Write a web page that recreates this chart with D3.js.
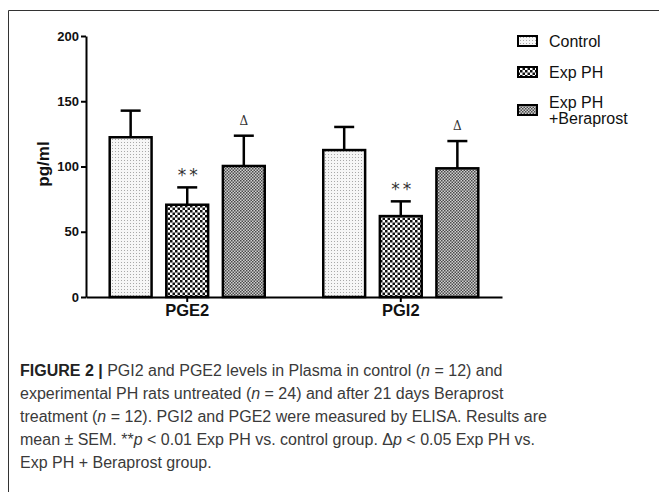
<!DOCTYPE html>
<html>
<head>
<meta charset="utf-8">
<script src="https://cdn.jsdelivr.net/npm/d3@7"></script>
<style>
  html, body { margin: 0; padding: 0; background: #fff; }
  svg { display: block; }
</style>
</head>
<body>
<svg id="chart" width="659" height="492"></svg>
<script>
// ---- data ----
const groups = ["PGE2", "PGI2"];
const seriesNames = ["Control", "Exp PH", "Exp PH +Beraprost"];
const controlMeans = [122.4, 112.6];
const controlSem = [20.4, 17.7];
const expMeans = [70.7, 62.0];
const expSem = [13.3, 11.3];
const beraMeans = [100.4, 98.6];
const beraSem = [23.2, 20.9];
const yTicks = [0, 50, 100, 150, 200];
const sigExp = ["**", "**"];
const sigBera = ["\u0394", "\u0394"];

const meansBySeries = [controlMeans, expMeans, beraMeans];
const semBySeries = [controlSem, expSem, beraSem];

const svg = d3.select("#chart");
const font = "Arial, 'Liberation Sans', Helvetica, sans-serif";

// ---- patterns ----
const defs = svg.append("defs");
const p0 = defs.append("pattern").attr("id", "pat0").attr("patternUnits", "userSpaceOnUse")
  .attr("width", 3).attr("height", 3);
p0.append("rect").attr("width", 3).attr("height", 3).attr("fill", "#f6f6f6");
p0.append("rect").attr("x", 1).attr("y", 1).attr("width", 1).attr("height", 1).attr("fill", "#a8a8a8");

const p1 = defs.append("pattern").attr("id", "pat1").attr("patternUnits", "userSpaceOnUse")
  .attr("width", 5).attr("height", 5);
p1.append("rect").attr("width", 5).attr("height", 5).attr("fill", "#fff");
p1.append("rect").attr("x", 0).attr("y", 0).attr("width", 2.5).attr("height", 2.5).attr("fill", "#111");
p1.append("rect").attr("x", 2.5).attr("y", 2.5).attr("width", 2.5).attr("height", 2.5).attr("fill", "#111");

const p2 = defs.append("pattern").attr("id", "pat2").attr("patternUnits", "userSpaceOnUse")
  .attr("width", 3).attr("height", 3);
p2.append("rect").attr("width", 3).attr("height", 3).attr("fill", "#d0d0d0");
p2.append("rect").attr("x", 0).attr("y", 0).attr("width", 1.5).attr("height", 1.5).attr("fill", "#4a4a4a");
p2.append("rect").attr("x", 1.5).attr("y", 1.5).attr("width", 1.5).attr("height", 1.5).attr("fill", "#4a4a4a");

const patIds = ["url(#pat0)", "url(#pat1)", "url(#pat2)"];

// ---- frame ----
svg.append("path").attr("d", "M8.5,492 V10.5 H659")
  .attr("fill", "none").attr("stroke", "#333").attr("stroke-width", 1);

// ---- scales ----
const y = d3.scaleLinear().domain([0, 200]).range([297, 36]);
const x0 = d3.scaleBand().domain(groups).range([86, 502]).paddingInner(0.274).paddingOuter(0.111);
const x1 = d3.scaleBand().domain(seriesNames).range([0, x0.bandwidth()]).paddingInner(0.26).paddingOuter(0);

// ---- bars ----
const g = svg.append("g");
groups.forEach((grp, gi) => {
  seriesNames.forEach((s, si) => {
    const m = meansBySeries[si][gi];
    const e = semBySeries[si][gi];
    const bx = x0(grp) + x1(s);
    const bw = x1.bandwidth();
    const cx = bx + bw / 2;
    // error bar
    g.append("line").attr("x1", cx).attr("x2", cx).attr("y1", y(m)).attr("y2", y(m + e))
      .attr("stroke", "#000").attr("stroke-width", 2.5);
    g.append("line").attr("x1", cx - 10).attr("x2", cx + 10).attr("y1", y(m + e)).attr("y2", y(m + e))
      .attr("stroke", "#000").attr("stroke-width", 2.5);
    g.append("rect").attr("x", bx).attr("y", y(m)).attr("width", bw).attr("height", y(0) - y(m))
      .attr("fill", patIds[si]).attr("stroke", "#000").attr("stroke-width", 2.5);
    if (si === 1) {
      g.append("text").attr("x", cx + 2).attr("y", y(m + e) - 6).attr("text-anchor", "middle")
        .attr("font-family", "'DejaVu Sans', sans-serif").attr("font-size", 17).attr("fill", "#333")
        .attr("letter-spacing", 3)
        .text(sigExp[gi]);
    }
    if (si === 2) {
      g.append("text").attr("x", cx).attr("y", y(m + e) - 11).attr("text-anchor", "middle")
        .attr("font-family", "'DejaVu Serif', serif").attr("font-size", 12).attr("fill", "#333")
        .text(sigBera[gi]);
    }
  });
});

// ---- axes ----
const yAxis = d3.axisLeft(y).tickValues(yTicks).tickSize(5).tickSizeOuter(0).tickPadding(2);
const ya = svg.append("g").attr("transform", "translate(86,0)").call(yAxis);
ya.select(".domain").attr("stroke-width", 2);
ya.selectAll(".tick line").attr("stroke-width", 2);
ya.selectAll(".tick text").attr("font-family", font).attr("font-weight", "bold").attr("font-size", 13).attr("fill", "#111");

const xAxis = d3.axisBottom(x0).tickSize(5).tickSizeOuter(0).tickPadding(2);
const xa = svg.append("g").attr("transform", "translate(0,297)").call(xAxis);
xa.select(".domain").attr("stroke-width", 2);
xa.selectAll(".tick line").attr("stroke-width", 2);
xa.selectAll(".tick text").attr("font-family", font).attr("font-weight", "bold").attr("font-size", 16.5).attr("fill", "#111");

// y label
svg.append("text").attr("transform", "translate(49,164) rotate(-90)").attr("text-anchor", "middle")
  .attr("font-family", font).attr("font-weight", "bold").attr("font-size", 17).attr("fill", "#111")
  .text("pg/ml");

// ---- legend ----
const legendY = [41, 72, 110];
const leg = svg.append("g");
seriesNames.forEach((s, si) => {
  leg.append("rect").attr("x", 518).attr("y", legendY[si] - 5).attr("width", 19).attr("height", 10)
    .attr("fill", patIds[si]).attr("stroke", "#000").attr("stroke-width", 2);
});
const legText = [["Control"], ["Exp PH"], ["Exp PH", "+Beraprost"]];
legText.forEach((lines, si) => {
  const n = lines.length;
  lines.forEach((ln, li) => {
    leg.append("text").attr("x", 549).attr("y", legendY[si] + 5.5 + (li - (n - 1) / 2) * 16)
      .attr("font-family", font).attr("font-size", 16).attr("fill", "#111").text(ln);
  });
});

// ---- caption ----
const capLines = [
  [["FIGURE 2 |", "b"], [" PGI2 and PGE2 levels in Plasma in control (", ""], ["n", "i"], [" = 12) and", ""]],
  [["experimental PH rats untreated (", ""], ["n", "i"], [" = 24) and after 21 days Beraprost", ""]],
  [["treatment (", ""], ["n", "i"], [" = 12). PGI2 and PGE2 were measured by ELISA. Results are", ""]],
  [["mean \u00b1 SEM. **", ""], ["p", "i"], [" < 0.01 Exp PH vs. control group. \u0394", ""], ["p", "i"], [" < 0.05 Exp PH vs.", ""]],
  [["Exp PH + Beraprost group.", ""]]
];
const cap = svg.append("g");
capLines.forEach((parts, li) => {
  const t = cap.append("text").attr("x", 20).attr("y", 376 + li * 23)
    .attr("font-family", font).attr("font-size", 16).attr("fill", "#3a3a3a");
  parts.forEach(([txt, st]) => {
    const sp = t.append("tspan").text(txt);
    if (st === "b") sp.attr("font-weight", "bold").attr("fill", "#222");
    if (st === "i") sp.attr("font-style", "italic");
  });
});
</script>
</body>
</html>
